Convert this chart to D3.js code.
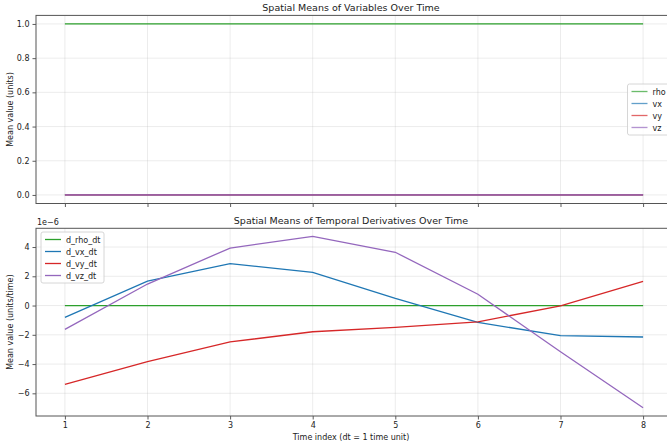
<!DOCTYPE html>
<html><head><meta charset="utf-8">
<script src="https://cdn.jsdelivr.net/npm/d3@7"></script>
<style>body{margin:0;background:#fff}svg{display:block;font-family:"DejaVu Sans",sans-serif}</style>
</head><body><svg id="c" width="667" height="446"></svg>
<script>
const timeIdx = [1,2,3,4,5,6,7,8];
const rho = [1,1,1,1,1,1,1,1];
const vx = [0,0,0,0,0,0,0,0];
const vy = [0,0,0,0,0,0,0,0];
const vz = [0,0,0,0,0,0,0,0];
const d_rho_dt = [0,0,0,0,0,0,0,0];
const d_vx_dt = [-0.81,1.67,2.86,2.27,0.49,-1.15,-2.06,-2.15];
const d_vy_dt = [-5.39,-3.84,-2.49,-1.79,-1.49,-1.11,-0.03,1.65];
const d_vz_dt = [-1.63,1.47,3.93,4.73,3.64,0.77,-3.16,-6.99];
const topTicks = [0,0.2,0.4,0.6,0.8,1.0];
const botTicks = [-6,-4,-2,0,2,4];
const colors = {g:"#2ca02c", b:"#1f77b4", r:"#d62728", p:"#9467bd"};

const svg = d3.select("#c");
const L = 36, R = 672;
const x = d3.scaleLinear().domain([0.65, 8.35]).range([L, R]);

function panel(top, bottom, yDomain, yTicks, fmt, series, title, ylabel, legend, showX) {
  const y = d3.scaleLinear().domain(yDomain).range([bottom, top]);
  const g = svg.append("g");
  // grid
  g.selectAll(".gx").data(timeIdx).enter().append("line")
    .attr("x1", d=>x(d)).attr("x2", d=>x(d)).attr("y1", top).attr("y2", bottom)
    .attr("stroke", "#b0b0b0").attr("stroke-opacity", 0.3).attr("stroke-width", 0.8);
  g.selectAll(".gy").data(yTicks).enter().append("line")
    .attr("x1", L).attr("x2", R).attr("y1", d=>y(d)).attr("y2", d=>y(d))
    .attr("stroke", "#b0b0b0").attr("stroke-opacity", 0.3).attr("stroke-width", 0.8);
  // lines
  const line = d3.line().x((d,i)=>x(timeIdx[i])).y(d=>y(d));
  series.forEach(s => {
    g.append("path").datum(s.v).attr("d", line).attr("fill","none")
      .attr("stroke", s.c).attr("stroke-width", 1.3);
  });
  // axes
  const ya = g.append("g").attr("transform", `translate(${L},0)`)
    .call(d3.axisLeft(y).tickValues(yTicks).tickFormat(fmt).tickSize(3.5).tickPadding(3));
  const xa = g.append("g").attr("transform", `translate(0,${bottom})`)
    .call(d3.axisBottom(x).tickValues(timeIdx).tickFormat(showX ? d3.format("d") : "").tickSize(3.5).tickPadding(3));
  [ya, xa].forEach(a => {
    a.select(".domain").remove();
    a.selectAll("line").attr("stroke", "#333").attr("stroke-width", 0.8);
    a.selectAll("text").attr("font-size", 8).attr("fill", "#222").attr("font-family", "DejaVu Sans");
  });
  g.append("rect").attr("x", L).attr("y", top).attr("width", R-L).attr("height", bottom-top)
    .attr("fill","none").attr("stroke","#555").attr("stroke-width",1);
  g.append("text").attr("x", 351).attr("y", top-4).attr("text-anchor","middle")
    .attr("font-size", 9.5).attr("fill","#222").text(title);
  g.append("text").attr("transform", `translate(13,${(top+bottom)/2}) rotate(-90)`)
    .attr("text-anchor","middle").attr("font-size", 8).attr("fill","#222").text(ylabel);
  // legend
  const lg = g.append("g");
  lg.append("rect").attr("x", legend.x).attr("y", legend.y).attr("width", legend.w).attr("height", 12*series.length+3)
    .attr("fill","#fff").attr("fill-opacity",0.8).attr("stroke","#ccc").attr("stroke-width",0.8).attr("rx",2);
  series.forEach((s,i) => {
    const yy = legend.y + 7.5 + 12*i;
    lg.append("line").attr("x1", legend.x+4).attr("x2", legend.x+20).attr("y1", yy).attr("y2", yy)
      .attr("stroke", s.c).attr("stroke-width", 1.3).attr("stroke-opacity", legend.op);
    lg.append("text").attr("x", legend.x+25).attr("y", yy+3).attr("font-size", 8).attr("fill","#222").text(s.n);
  });
  return y;
}

panel(15.4, 203.5, [-0.05, 1.05], topTicks, d3.format(".1f"),
  [{n:"rho",v:rho,c:colors.g},{n:"vx",v:vx,c:colors.b},{n:"vy",v:vy,c:colors.r},{n:"vz",v:vz,c:colors.p}],
  "Spatial Means of Variables Over Time", "Mean value (units)", {x:627.5, y:84, w:50, op:0.7}, false);

panel(228.3, 416, [-7.55, 5.28], botTicks, d => d < 0 ? "\u2212" + Math.abs(d) : String(d),
  [{n:"d_rho_dt",v:d_rho_dt,c:colors.g},{n:"d_vx_dt",v:d_vx_dt,c:colors.b},{n:"d_vy_dt",v:d_vy_dt,c:colors.r},{n:"d_vz_dt",v:d_vz_dt,c:colors.p}],
  "Spatial Means of Temporal Derivatives Over Time", "Mean value (units/time)", {x:41, y:232, w:63, op:1}, true);

svg.append("text").attr("x", 37).attr("y", 225).attr("font-size", 8).attr("fill","#222").text("1e\u22126");
svg.append("text").attr("x", 351).attr("y", 440).attr("text-anchor","middle").attr("font-size", 8).attr("fill","#222")
  .text("Time index (dt = 1 time unit)");
</script></body></html>
